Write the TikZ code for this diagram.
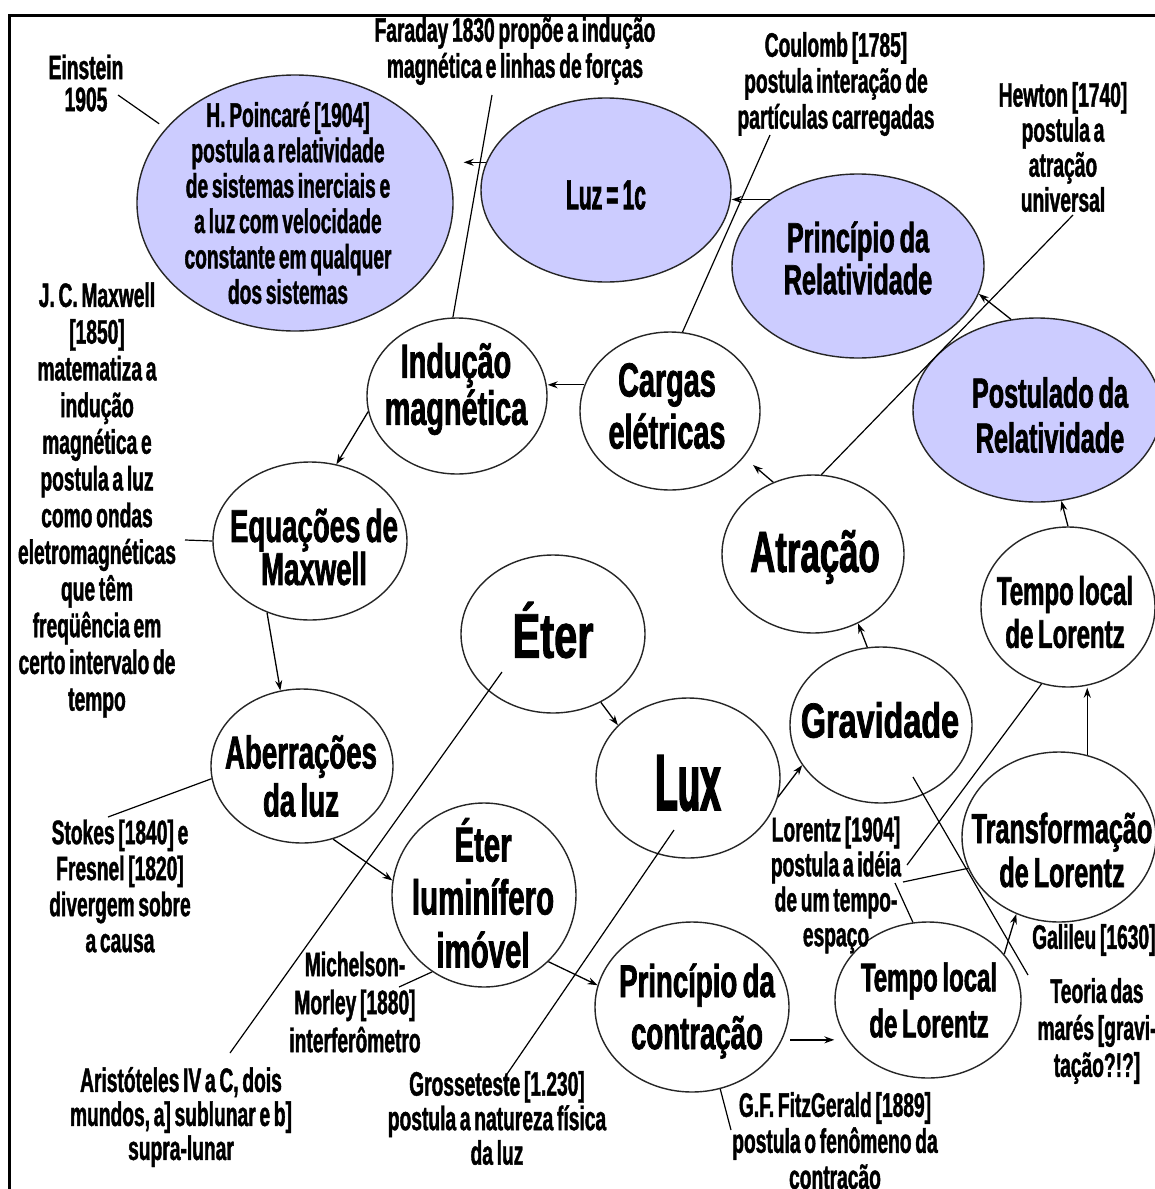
\documentclass[tikz,border=0pt]{standalone}
\usepackage{fontspec}
\usetikzlibrary{shapes.geometric,arrows.meta}
\newfontfamily\fA[FakeStretch=0.565,WordSpace=0.7,FakeBold=1.2]{Liberation Sans}
\newfontfamily\fT[FakeStretch=0.6,WordSpace=0.7,FakeBold=1.5]{Liberation Sans}
\newfontfamily\fB[FakeStretch=0.5,WordSpace=0.7,FakeBold=1.5]{Liberation Sans}
\newfontfamily\fC[FakeStretch=0.46,FakeBold=2]{Liberation Sans}
\newfontfamily\fD[FakeStretch=0.66,FakeBold=1.5]{Liberation Sans}
\definecolor{lav}{RGB}{204,204,255}
\begin{document}
\begin{tikzpicture}[x=1pt,y=-1pt,
  bub/.style={ellipse,draw=black!85,line width=1.4pt,inner sep=0pt,fill=white},
  lavb/.style={bub,fill=lav},
  lab/.style={inner sep=0pt,align=center,font=\fA\bfseries\fontsize{34}{36}\selectfont},
  ttl/.style={inner sep=0pt,align=center,font=#1},
  arr/.style={-{Stealth[length=10pt,width=7pt]},line width=1.3pt},
  ln/.style={line width=1.2pt}]
\useasboundingbox (0,0) rectangle (1155,1189);
\fill[white] (0,0) rectangle (1155,1189);
% frame
\draw[line width=3pt] (9,1189) -- (9,15) -- (1155,15);
% ellipses
\node[lavb,minimum width=316pt,minimum height=256pt] (poin) at (295,203) {};
\node[lavb,minimum width=250pt,minimum height=184pt] (luz) at (606,190) {};
\node[lavb,minimum width=252pt,minimum height=184pt] (pr) at (858,266) {};
\node[lavb,minimum width=248pt,minimum height=184pt] (post) at (1037,410) {};
\node[bub,minimum width=180pt,minimum height=156pt] (ind) at (457,396) {};
\node[bub,minimum width=180pt,minimum height=158pt] (carg) at (670,411) {};
\node[bub,minimum width=182pt,minimum height=158pt] (atr) at (813,554) {};
\node[bub,minimum width=174pt,minimum height=160pt] (tl1) at (1068,607) {};
\node[bub,minimum width=182pt,minimum height=156pt] (grav) at (881,725) {};
\node[bub,minimum width=194pt,minimum height=170pt] (trans) at (1059,837) {};
\node[bub,minimum width=184pt,minimum height=160pt] (lux) at (688,778) {};
\node[bub,minimum width=184pt,minimum height=158pt] (eter) at (553,634) {};
\node[bub,minimum width=194pt,minimum height=158pt] (eq) at (310,541) {};
\node[bub,minimum width=182pt,minimum height=154pt] (aber) at (302,766) {};
\node[bub,minimum width=184pt,minimum height=184pt] (eterl) at (484,895) {};
\node[bub,minimum width=194pt,minimum height=170pt] (pc) at (692,1007) {};
\node[bub,minimum width=186pt,minimum height=156pt] (tl2) at (928,1000) {};
% titles
\node[lab,font=\fA\bfseries\fontsize{34}{35.4}\selectfont] (poinT) at (288,203) {H. Poincaré [1904]\\postula a relatividade\\de sistemas inerciais e\\a luz com velocidade\\constante em qualquer\\dos sistemas};
\node[ttl={\fB\bfseries\fontsize{42}{42}\selectfont}] (luzT) at (606,195) {Luz = 1c};
\node[ttl={\fT\bfseries\fontsize{42}{42}\selectfont}] (prT) at (858,258) {Princípio da\\Relatividade};
\node[ttl={\fT\bfseries\fontsize{42}{45}\selectfont}] (postT) at (1050,415) {Postulado da\\Relatividade};
\node[ttl={\fT\bfseries\fontsize{48}{47}\selectfont}] (indT) at (456,389) {Indução\\magnética};
\node[ttl={\fT\bfseries\fontsize{48}{52}\selectfont}] (cargT) at (667,406) {Cargas\\elétricas};
\node[ttl={\fT\bfseries\fontsize{58}{58}\selectfont}] (atrT) at (815,557) {Atração};
\node[ttl={\fT\bfseries\fontsize{40}{43}\selectfont}] (tl1T) at (1065,612) {Tempo local\\de Lorentz};
\node[ttl={\fD\bfseries\fontsize{49}{49}\selectfont}] (gravT) at (880,720) {Gravidade};
\node[ttl={\fT\bfseries\fontsize{42}{44}\selectfont}] (transT) at (1062,850) {Transformação\\de Lorentz};
\node[ttl={\fC\bfseries\fontsize{80}{80}\selectfont}] (luxT) at (688,783) {Lux};
\node[ttl={\fD\bfseries\fontsize{63}{63}\selectfont}] (eterT) at (553,630) {Éter};
\node[ttl={\fT\bfseries\fontsize{46}{43}\selectfont}] (eqT) at (314,547) {Equações de\\Maxwell};
\node[ttl={\fT\bfseries\fontsize{46}{48}\selectfont}] (aberT) at (301,776) {Aberrações\\da luz};
\node[ttl={\fT\bfseries\fontsize{49}{53}\selectfont}] (eterlT) at (483,893) {Éter\\luminífero\\imóvel};
\node[ttl={\fT\bfseries\fontsize{46}{52}\selectfont}] (pcT) at (697,1011) {Princípio da\\contração};
\node[ttl={\fT\bfseries\fontsize{40}{46}\selectfont}] (tl2T) at (929,1000) {Tempo local\\de Lorentz};
% labels
\node[lab,font=\fA\bfseries\fontsize{34}{32}\selectfont] (einT) at (86,83) {Einstein\\1905};
\node[lab,font=\fA\bfseries\fontsize{34}{36}\selectfont] (farT) at (515,51) {Faraday 1830 propõe a indução\\magnética e linhas de forças};
\node[lab] (couT) at (836,84) {Coulomb [1785]\\postula interação de\\partículas carregadas};
\node[lab,font=\fA\bfseries\fontsize{34}{35}\selectfont] (hewT) at (1063,147) {Hewton [1740]\\postula a\\atração\\universal};
\node[lab,font=\fA\bfseries\fontsize{34}{36.7}\selectfont] (maxT) at (97,500) {J. C. Maxwell\\{}[1850]\\matematiza a\\indução\\magnética e\\postula a luz\\como ondas\\eletromagnéticas\\que têm\\freqüência em\\certo intervalo de\\tempo};
\node[lab] (stoT) at (120,886) {Stokes [1840] e\\Fresnel [1820]\\divergem sobre\\a causa};
\node[lab,font=\fA\bfseries\fontsize{34}{38}\selectfont] (micT) at (355,1002) {Michelson-\\Morley [1880]\\interferômetro};
\node[lab,font=\fA\bfseries\fontsize{34}{34}\selectfont] (ariT) at (181,1117) {Aristóteles IV a C, dois\\mundos, a] sublunar e b]\\supra-lunar};
\node[lab,font=\fA\bfseries\fontsize{34}{34.5}\selectfont] (groT) at (497,1118) {Grosseteste [1.230]\\postula a natureza física\\da luz};
\node[lab] (fitT) at (835,1144) {G.F. FitzGerald [1889]\\postula o fenômeno da\\contração};
\node[lab,font=\fA\bfseries\fontsize{34}{35}\selectfont] (lorT) at (836,885) {Lorentz [1904]\\postula a idéia\\de um tempo-\\espaço};
\node[lab,anchor=west] (galT) at (1032,940) {Galileu [1630]};
\node[lab,font=\fA\bfseries\fontsize{34}{37}\selectfont] (teoT) at (1097,1031) {Teoria das\\marés [gravi-\\tação?!?]};
% arrows between concepts
\draw[arr,shorten >=10pt] (luz.167) -- (luz.167 -| poin.east);
\draw[arr] (pr.143) -- (pr.143 -| luz.east);
\draw[arr] (post.106) -- (pr.-13);
\draw[arr] (tl1.north) -- (post.-75);
\draw[arr] (trans.71) -- (trans.71 |- tl1.south);
\draw[arr] (tl2.31) -- (trans.-119);
\draw[arr,shorten <=8pt] (pc.-20) -- (pc.-20 -| tl2.west);
\draw[arr] (lux.-12) -- (grav.-153);
\draw[arr] (eter.-55) -- (lux.143);
\draw[arr] (grav.100) -- (atr.-57);
\draw[arr,shorten >=12pt] (atr.119) -- (carg.-32);
\draw[arr] (carg.163) -- (carg.163 -| ind.east);
\draw[arr] (ind.190) -- (eq.71);
\draw[arr] (eq.-121) -- (aber.106);
\draw[arr] (aber.-67) -- (eterl.171);
\draw[arr] (eterl.-46) -- (pc.167);
% label lines
\coordinate (einC) at (118,95);
\coordinate (farC) at (492,95);
\coordinate (couC) at (770,135);
\coordinate (hewC) at (1073,215);
\coordinate (maxC) at (185,540);
\coordinate (stoC) at (108,817);
\coordinate (micC) at (399,987);
\coordinate (ariC) at (230,1053);
\coordinate (ariE) at (502,672);
\coordinate (groC) at (505,1077);
\coordinate (groE) at (674,830);
\coordinate (fitC) at (731,1130);
\coordinate (lorA) at (903,882);
\coordinate (lorB) at (895,883);
\coordinate (lorC) at (907,865);
\coordinate (teoC) at (1028,975);
\coordinate (teoE) at (913,777);
\draw[ln,shorten >=8pt] (einC) -- (poin.150);
\draw[ln] (farC) -- (ind.93);
\draw[ln] (couC) -- (carg.81);
\draw[ln] (hewC) -- (atr.84);
\draw[ln] (maxC) -- (eq.west);
\draw[ln] (stoC) -- (aber.188);
\draw[ln] (micC) -- (eterl.-124);
\draw[ln] (ariC) -- (ariE);
\draw[ln] (groC) -- (groE);
\draw[ln] (fitC) -- (pc.-71);
\draw[ln] (lorA) -- (trans.199);
\draw[ln] (lorB) -- (tl2.101);
\draw[ln] (lorC) -- (tl1.-109);
\draw[ln] (teoE) -- (teoC);
\end{tikzpicture}
\end{document}
